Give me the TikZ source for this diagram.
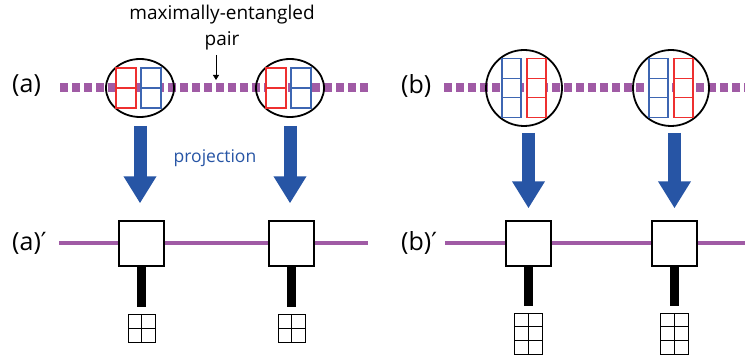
\documentclass[tikz,border=0pt]{standalone}
\usepackage{fontspec}
\setmainfont{Open Sans}
\newfontfamily\primefont{DejaVu Sans}
\usepackage{tikz}
\usetikzlibrary{arrows.meta,shapes.geometric,positioning,calc}

\definecolor{bondpurple}{RGB}{160,91,165}
\definecolor{projblue}{RGB}{39,85,165}
\definecolor{spinred}{RGB}{238,48,48}
\definecolor{spinblue}{RGB}{62,102,178}

\tikzset{
	vbond/.style={bondpurple, line width=9pt, dash pattern=on 8pt off 4pt},
	pbond/.style={bondpurple, line width=4pt},
	pairell/.style={draw, ellipse, line width=1.8pt, minimum width=68pt, minimum height=58pt, inner sep=0pt},
	paircirc/.style={draw, circle, line width=1.8pt, minimum size=76pt, inner sep=0pt},
	cellline/.style={line width=1.3pt, fill=white},
	tensor/.style={draw, fill=white, line width=1.3pt, minimum size=45pt, inner sep=0pt},
	phys/.style={line width=9pt, shorten >=7pt},
	proj/.style={projblue, line width=13pt, -{Triangle[width=31pt,length=27pt]}},
	lab/.style={font=\fontsize{25}{28}\selectfont, anchor=west, inner sep=0pt},
	gridtwo/.style={draw, line width=1pt, minimum width=27pt, minimum height=28pt, inner sep=0pt,
		path picture={\draw[line width=1pt] (path picture bounding box.north) -- (path picture bounding box.south)
			(path picture bounding box.west) -- (path picture bounding box.east);}},
	gridthree/.style={draw, line width=1pt, minimum width=28pt, minimum height=41pt, inner sep=0pt,
		path picture={\draw[line width=1pt] (path picture bounding box.north) -- (path picture bounding box.south);
			\foreach \f in {1/3,2/3}
			\draw[line width=1pt] ($(path picture bounding box.north west)!\f!(path picture bounding box.south west)$)
			-- ($(path picture bounding box.north east)!\f!(path picture bounding box.south east)$);}},
}

\begin{document}
\begin{tikzpicture}[x=1pt, y=-1pt]
\useasboundingbox (0,0) rectangle (745,358);

% upper row: entangled pairs
\coordinate (va-l) at (60,87.5);
\coordinate (va-r) at (368,87.5);
\coordinate (vb-l) at (444,88);
\coordinate (vb-r) at (745,88);
\draw[vbond] (va-l) -- (va-r);
\draw[vbond] (vb-l) -- (vb-r);

\node[pairell] (ea1) at (140,88) {};
\node[pairell] (ea2) at (290,88) {};
\node[paircirc] (eb1) at (524,88) {};
\node[paircirc] (eb2) at (671,88) {};

\foreach \cx in {140,290}{
	\draw[spinred, cellline] (\cx-24,68) rectangle ++(20,40) (\cx-24,88) -- ++(20,0);
	\draw[spinblue, cellline] (\cx+1,68) rectangle ++(20,40) (\cx+1,88) -- ++(20,0);
}
\foreach \cx in {524,671}{
	\draw[spinblue, cellline] (\cx-22,58.5) rectangle ++(19,59) (\cx-22,78.2) -- ++(19,0) (\cx-22,97.8) -- ++(19,0);
	\draw[spinred, cellline] (\cx+3,58.5) rectangle ++(19,59) (\cx+3,78.2) -- ++(19,0) (\cx+3,97.8) -- ++(19,0);
}

\node[lab] (la) at (12,86) {(a)};
\node[lab] (lb) at (401,86) {(b)};

\node[align=center, font=\fontsize{19}{26}\selectfont, inner sep=0pt] (mep) at (222,28) {maximally-entangled\\pair};
\coordinate (mep-top) at (216,55);
\coordinate (mep-bot) at (216,80);
\draw[line width=0.9pt, -{Triangle[width=6pt,length=5pt]}] (mep-top) -- (mep-bot);

% lower row: tensor networks
\coordinate (pa-l) at (59,243.5);
\coordinate (pa-r) at (368,243.5);
\coordinate (pb-l) at (445,243.5);
\coordinate (pb-r) at (745,243.5);

\node[tensor] (ta1) at (141.5,243.5) {};
\node[tensor] (ta2) at (291.5,243.5) {};
\node[tensor] (tb1) at (528.5,243.5) {};
\node[tensor] (tb2) at (674.5,243.5) {};

\draw[pbond] (pa-l) -- (ta1) -- (ta2) -- (pa-r);
\draw[pbond] (pb-l) -- (tb1) -- (tb2) -- (pb-r);

\node[gridtwo, below=47pt of ta1] (ga1) {};
\node[gridtwo, below=47pt of ta2] (ga2) {};
\node[gridthree, below=46pt of tb1] (gb1) {};
\node[gridthree, below=46pt of tb2] (gb2) {};

\path[phys]
(ta1) edge (ga1)
(ta2) edge (ga2)
(tb1) edge (gb1)
(tb2) edge (gb2);

\node[lab] (lap) at (12,243) {(a){\primefont ′}};
\node[lab] (lbp) at (401,243) {(b){\primefont ′}};

% projections
\path[proj]
(ea1.south) edge[shorten <=8pt, shorten >=17pt] (ea1.south |- ta1.north)
(ea2.south) edge[shorten <=8pt, shorten >=17pt] (ea2.south |- ta2.north)
(tb1.north |- eb1.south) edge[shorten <=6pt, shorten >=12pt] (tb1.north)
(tb2.north |- eb2.south) edge[shorten <=6pt, shorten >=12pt] (tb2.north);

\node[projblue, font=\fontsize{17.5}{20}\selectfont, inner sep=0pt] (projtxt) at (215,158) {projection};
\end{tikzpicture}
\end{document}
